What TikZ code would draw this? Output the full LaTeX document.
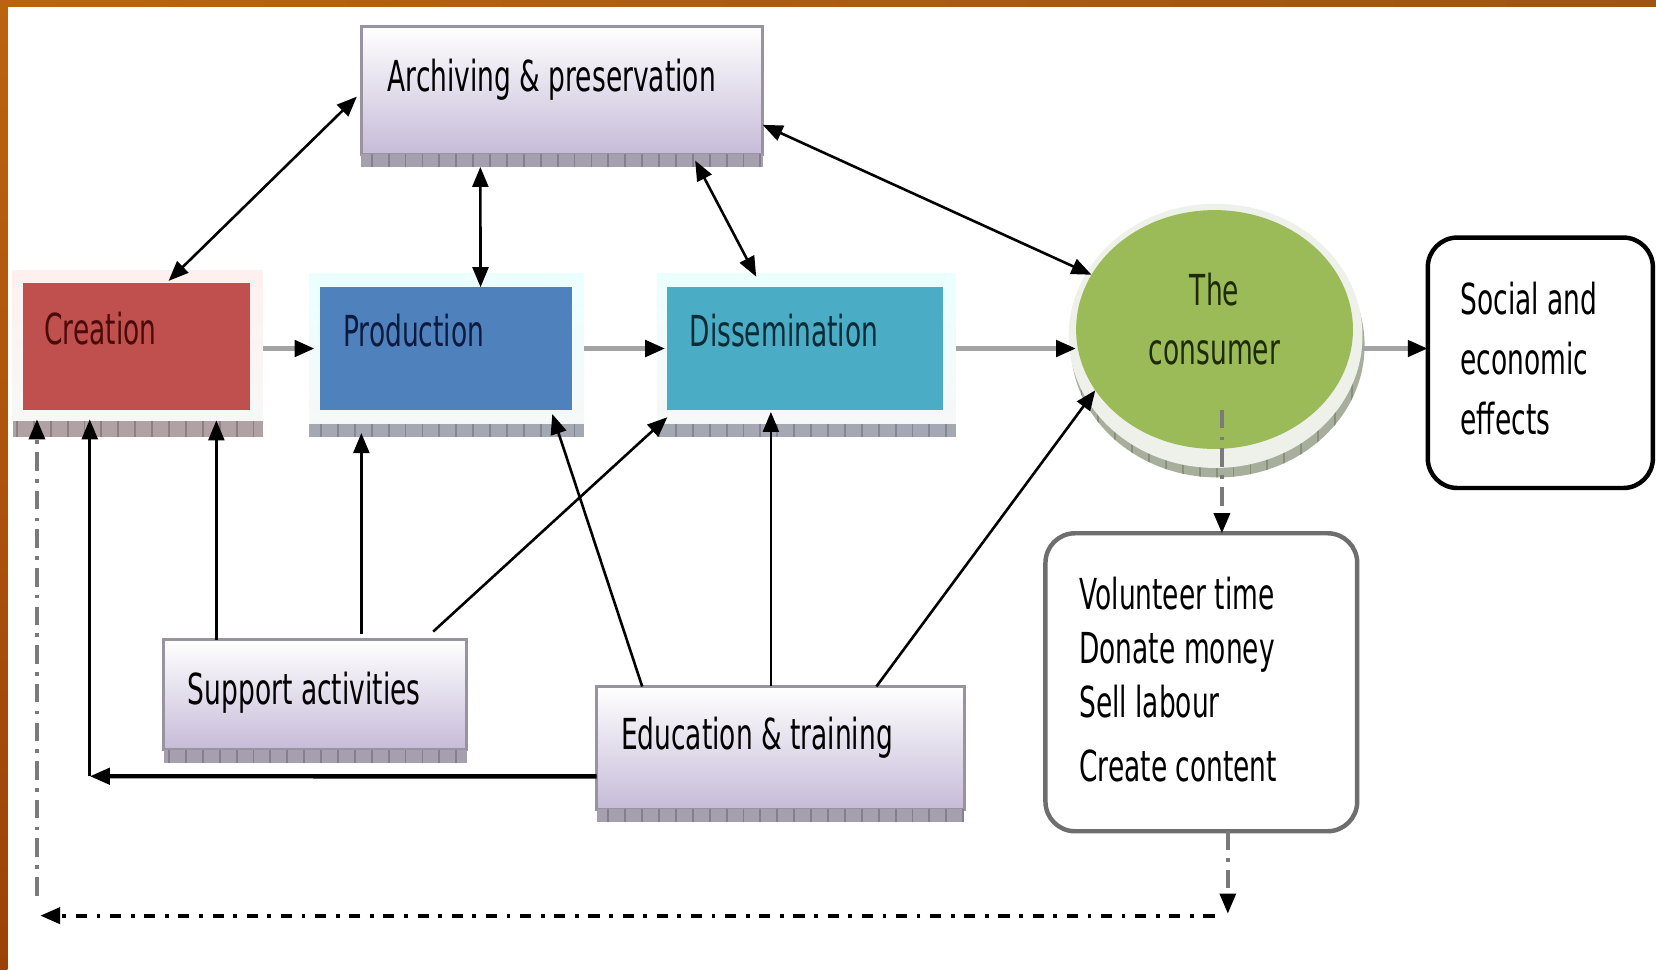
\documentclass[tikz,border=0pt]{standalone}
\usepackage{fontspec}
\usetikzlibrary{arrows.meta,shapes.geometric,calc}
\newfontfamily\dgfont[FakeStretch=0.62]{DejaVu Sans}

\definecolor{crred}{HTML}{C0504D}
\definecolor{prblue}{HTML}{4F81BD}
\definecolor{dsteal}{HTML}{4BACC6}
\definecolor{cngreen}{HTML}{9BBB59}
\definecolor{crtext}{HTML}{4B0B0B}
\definecolor{prtext}{HTML}{0D1B3E}
\definecolor{dstext}{HTML}{0B2B36}
\definecolor{cntext}{HTML}{1F2B08}
\definecolor{lavbot}{HTML}{C6BBD8}
\definecolor{lavedge}{HTML}{98939F}
\definecolor{lavstrip}{HTML}{A69FAE}
\definecolor{lavtick}{HTML}{857D90}
\definecolor{redstrip}{HTML}{B0A1A5}
\definecolor{redtick}{HTML}{8F7F85}
\definecolor{bluestrip}{HTML}{A3A8B2}
\definecolor{bluetick}{HTML}{838896}
\definecolor{grnstrip}{HTML}{A8AE9C}
\definecolor{grntick}{HTML}{88907A}
\definecolor{halo}{HTML}{EEF1EA}
\definecolor{flowgrey}{HTML}{A3A3A3}
\definecolor{dashgrey}{HTML}{7A7A7A}
\definecolor{voledge}{HTML}{6E6E6E}
\definecolor{orangeA}{HTML}{BC6310}
\definecolor{orangeB}{HTML}{9C4208}

% grey bevel strip with ruler-like ticks: x1 y1 x2 y2 fill tick
\newcommand\bevelstrip[6]{%
  \fill[#5] (#1,#2) rectangle (#3,#4);
  \begin{scope}
    \clip (#1,#2) rectangle (#3,#4);
    \foreach \tx in {0,16,...,1600} \draw[#6, line width=0.5pt] (\tx,#2) -- (\tx,#4);
  \end{scope}}

\tikzset{
  hd/.tip={Triangle[length=5.4pt,width=4.3pt,black]},
  link/.style={-{hd}, line width=0.7pt, black},
  dlink/.style={{hd}-{hd}, line width=0.7pt, black},
  flow/.style={-{hd}, line width=1.3pt, draw=flowgrey},
  dashln/.style={-{hd}, line width=0.9pt, draw=dashgrey,
    dash pattern=on 5pt off 2.2pt on 1pt off 2.2pt},
  retln/.style={-{hd}, line width=1.1pt, black,
    dash pattern=on 3pt off 2.6pt on 1pt off 2.6pt},
  lbl/.style={font=\dgfont\fontsize{11.5pt}{16pt}\selectfont, inner sep=0pt, outer sep=0pt},
  colbox/.style={rectangle, inner sep=0pt, outer sep=0pt, draw=none},
  lavbox/.style={rectangle, inner sep=0pt, outer sep=0pt, top color=white,
    bottom color=lavbot, draw=lavedge, line width=0.8pt},
  roundbox/.style={rectangle, rounded corners=0.28cm, inner sep=0pt, outer sep=0pt, fill=white},
}

\begin{document}
\begin{tikzpicture}[x=0.01cm,y=-0.01cm]
\useasboundingbox (0,0) rectangle (1568,918);
\fill[white] (0,0) rectangle (1568,918);
\shade[left color=orangeA, right color=orangeA!85!black] (0,0) rectangle (1568,6);
\shade[top color=orangeA, bottom color=orangeB] (0,0) rectangle (7,918);

% light frames behind the coloured stages
\shade[top color=red!6, bottom color=gray!6] (12,256) rectangle (249,399);
\bevelstrip{12}{399}{249}{414}{redstrip}{redtick}
\shade[top color=cyan!8, bottom color=gray!6] (293,259) rectangle (553,401);
\bevelstrip{293}{401}{553}{414}{bluestrip}{bluetick}
\shade[top color=cyan!8, bottom color=gray!6] (622,259) rectangle (905,401);
\bevelstrip{622}{401}{905}{414}{bluestrip}{bluetick}

% halo round the consumer
\begin{scope}
  \clip (1153,327) ellipse [x radius=1.39cm, y radius=1.25cm];
  \fill[grnstrip] (1000,190) rectangle (1300,460);
  \foreach \tx in {0,16,...,1600} \draw[grntick, line width=0.5pt] (\tx,190) -- (\tx,460);
\end{scope}
\fill[halo] (1151,318) ellipse [x radius=1.39cm, y radius=1.25cm];

% stages
\node[colbox, fill=crred, minimum width=2.15cm, minimum height=1.20cm] (cre) at (129.5,328) {};
\node[colbox, fill=prblue, minimum width=2.39cm, minimum height=1.16cm] (prod) at (422.5,330) {};
\node[colbox, fill=dsteal, minimum width=2.61cm, minimum height=1.16cm] (dis) at (762.5,330) {};
\node[ellipse, fill=cngreen, inner sep=0pt, outer sep=0pt,
      minimum width=2.62cm, minimum height=2.26cm] (cons) at (1150,312) {};

% lavender boxes
\node[lavbox, minimum width=3.80cm, minimum height=1.21cm] (arch) at (532,85.5) {};
\bevelstrip{342}{146}{722}{158}{lavstrip}{lavtick}
\node[lavbox, minimum width=2.87cm, minimum height=1.04cm] (sup) at (298.5,658) {};
\bevelstrip{155}{710}{442}{722}{lavstrip}{lavtick}
\node[lavbox, minimum width=3.48cm, minimum height=1.16cm] (edu) at (739,708) {};
\bevelstrip{565}{766}{913}{778}{lavstrip}{lavtick}

% outcome boxes
\node[roundbox, draw=black, line width=1.2pt, minimum width=2.13cm, minimum height=2.37cm] (soc) at (1458.5,343.5) {};
\node[roundbox, draw=voledge, line width=1.2pt, minimum width=2.95cm, minimum height=2.82cm] (vol) at (1137.5,646) {};

% texts
\node[lbl, anchor=base west, text=crtext] (crelbl) at (42,326) {Creation};
\node[lbl, anchor=base west, text=prtext] (prodlbl) at (325,328) {Production};
\node[lbl, anchor=base west, text=dstext] (dislbl) at (653,328) {Dissemination};
\node[lbl, anchor=base west] (archlbl) at (367,87) {Archiving \& preservation};
\node[lbl, anchor=base west] (suplbl) at (178,667) {Support activities};
\node[lbl, anchor=base west] (edulbl) at (588,710) {Education \& training};
\node[lbl, align=center, text=cntext] (conslbl) at (1150,302) {The\\consumer};
\node[lbl, font=\dgfont\fontsize{11.5pt}{16.2pt}\selectfont, align=left, anchor=north west] (soclbl) at (1383,267)
  {Social and\\economic\\effects};
\node[lbl, font=\dgfont\fontsize{11.5pt}{14.6pt}\selectfont, align=left, anchor=north west] (vollbl) at (1022,546)
  {Volunteer time\\Donate money\\Sell labour\\[2.5pt]Create content};

% archive links
\draw[dlink] ([xshift=-0.04cm,yshift=-0.06cm]arch.west) -- ($(cre.north west)!0.64!(cre.north east)+(0,-2)$);
\draw[dlink] ($(arch.south west)!0.297!(arch.south east)+(0,12)$) -- ($(prod.north west)!0.636!(prod.north east)$);
\draw[dlink] ($(arch.south west)!0.832!(arch.south east)+(0,6)$) -- ($(dis.north west)!0.322!(dis.north east)+(0,-10)$);
\draw[dlink] ($(arch.north east)!0.77!(arch.south east)$) -- (cons.156);

% main flow
\draw[flow] ([xshift=0.12cm]cre.east |- prod.west) -- ([xshift=-0.05cm]prod.west);
\draw[flow] ([xshift=0.11cm]prod.east) -- ([xshift=-0.02cm]dis.west);
\draw[flow] ([xshift=0.12cm]dis.east) -- (dis.east -| cons.west);
\draw[flow] ([xshift=0.09cm]cons.east |- dis.east) -- (soc.west |- dis.east);

% support activities
\coordinate (s1) at ($(sup.north west)!0.174!(sup.north east)$);
\coordinate (s2) at ($(sup.north west)!0.652!(sup.north east)+(0,-6)$);
\coordinate (s3) at ($(sup.north west)!0.889!(sup.north east)+(0,-8)$);
\draw[link] (s1) -- ([yshift=-0.1cm]s1 |- cre.south);
\draw[link] (s2) -- ([yshift=-0.22cm]s2 |- prod.south);
\draw[link] (s3) -- ([yshift=-0.07cm]dis.south west);

% education & training
\coordinate (e1) at ($(edu.north west)!0.124!(edu.north east)$);
\coordinate (e2) at ($(edu.north west)!0.474!(edu.north east)$);
\coordinate (e3) at ($(edu.north west)!0.761!(edu.north east)$);
\coordinate (e4) at ($(edu.north west)!0.733!(edu.south west)$);
\coordinate (elbow) at (85,735);
\draw[link] (e1) -- ($(prod.south west)!0.92!(prod.south east)+(0,4)$);
\draw[link] (e2) -- ([yshift=-0.02cm]e2 |- dis.south);
\draw[link] (e3) -- (cons.207);
\draw[link, line width=1.2pt] (e4) -- (elbow);
\draw[link] (elbow) -- ([yshift=-0.09cm]elbow |- cre.south);

% consumer contributions and the return loop
\coordinate (d1) at ($(cons.center)+(7,76)$);
\draw[dashln] (d1) -- (d1 |- vol.north);
\coordinate (d2) at ($(vol.south west)!0.585!(vol.south east)$);
\coordinate (dropend) at ($(d2)+(0,78)$);
\draw[dashln] (d2) -- (dropend);
\coordinate (retR) at (1150,867);
\coordinate (retL) at (38,867);
\draw[retln] (retR) -- (retL);
\coordinate (upB) at (35,848);
\draw[dashln] (upB) -- ([yshift=-0.09cm]upB |- cre.south);
\end{tikzpicture}
\end{document}
